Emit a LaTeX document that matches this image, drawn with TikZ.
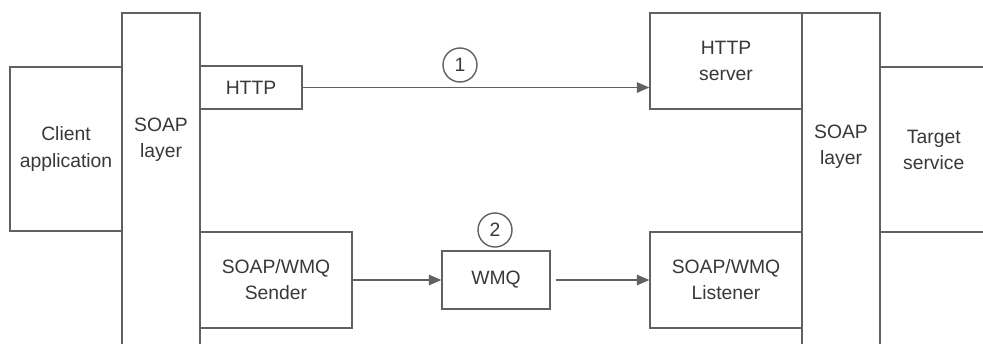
\documentclass[tikz,border=0pt]{standalone}
\usepackage{fontspec}
\setmainfont{Liberation Sans}
\usetikzlibrary{arrows.meta}
\colorlet{linegray}{black!62}
\colorlet{textgray}{black!78}
\tikzset{
  box/.style={draw=linegray, line width=0.8pt, text=textgray, align=center, inner sep=0pt},
  layer/.style={box, minimum width=1.56cm, minimum height=7.2cm},
  conn/.style={draw=linegray, line width=0.8pt, -{Triangle[length=2.5mm,width=2.1mm]}},
  marker/.style={circle, draw=linegray, line width=0.8pt, minimum size=0.68cm, inner sep=0pt, text=textgray}
}
\begin{document}
\begin{tikzpicture}[font=\fontsize{11}{14.8}\selectfont]
  \useasboundingbox (0,0) rectangle (19.66,6.86);
  \clip (0,0) rectangle (19.66,6.86);
  % client side
  \node[box, minimum width=2.24cm, minimum height=3.28cm] (client) at (1.32,3.88) {Client\\application};
  \node[layer, label={[text=textgray, align=center, yshift=1.06cm]center:SOAP\\layer}] (soapL) at (3.22,3.0) {};
  \node[box, minimum width=2.04cm, minimum height=0.86cm] (http) at (5.02,5.11) {HTTP};
  \node[box, minimum width=3.04cm, minimum height=1.92cm] (sender) at (5.52,1.26) {SOAP/WMQ\\Sender};
  \node[box, minimum width=2.16cm, minimum height=1.16cm] (wmq) at (9.92,1.26) {WMQ};
  % service side
  \node[box, minimum width=3.04cm, minimum height=1.92cm] (server) at (14.52,5.64) {HTTP\\server};
  \node[box, minimum width=3.04cm, minimum height=1.92cm] (listener) at (14.52,1.26) {SOAP/WMQ\\Listener};
  \node[layer, label={[text=textgray, align=center, yshift=0.92cm]center:SOAP\\layer}] (soapR) at (16.82,3.0) {};
  \node[box, minimum width=2.15cm, minimum height=3.3cm] (target) at (18.675,3.87) {Target\\service};
  % transports
  \draw[conn] (http) -- (http -| server.west);
  \draw[conn] (sender) -- (wmq);
  \draw[conn, shorten <=1mm] (wmq) -- (listener);
  \node[marker] (one) at (9.2,5.56) {1};
  \node[marker] (two) at (9.9,2.26) {2};
\end{tikzpicture}
\end{document}
